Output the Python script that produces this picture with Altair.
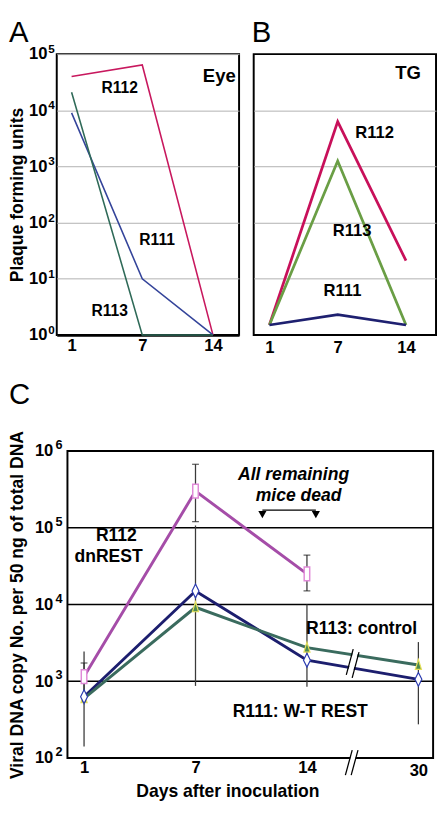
import altair as alt
import pandas as pd

FONT = "Liberation Sans"

# ---------------- Panel A : Eye (plaque forming units) ----------------
ab_days = ["1", "7", "14"]
eye_series = ["R112", "R111", "R113"]
eye_colors = ["#C8185E", "#34449A", "#2F6A58"]
eye_r112 = [4.0e4, 6.4e4, 1.0]
eye_r111 = [9.0e3, 10.0, 1.0]
eye_r113 = [2.1e4, 1.0, 1.0]
eye_lbl_text = ["R112", "R111", "R113", "Eye"]
eye_lbl_pos = [0.68, 1.21, 0.54, 2.09]
eye_lbl_val = [2.5e4, 48, 2.7, 4.0e4]
eye_lbl_size = [16, 16, 16, 19]

# ---------------- Panel B : TG ----------------
tg_series = ["R112", "R113", "R111"]
tg_colors = ["#C8105A", "#6A9E45", "#1E2070"]
tg_r112 = [1.5, 6.3e3, 21.0]
tg_r113 = [1.5, 1.25e3, 1.5]
tg_r111 = [1.5, 2.3, 1.5]
tg_lbl_text = ["TG", "R112", "R113", "R111"]
tg_lbl_pos = [2.03, 1.54, 1.21, 1.07]
tg_lbl_val = [4.5e4, 3.9e3, 71, 5.9]
tg_lbl_size = [19, 17, 17, 17]

# ---------------- Panel C : viral DNA copies ----------------
c_days = ["1", "7", "14", "30"]
c_series = ["R112", "R111", "R113"]
c_colors = ["#A54DA8", "#1C1E6E", "#3A6B5E"]
c_r112 = [1150, 3.0e5, 2.5e4]
c_r112_hi = [2450, 6.7e5, 4.4e4]
c_r112_lo = [600, 1.2e5, 1.5e4]
c_r111 = [630, 1.5e4, 1880, 1060]
c_r111_hi = [1730, 1.07e5, 1.0e4, 3240]
c_r111_lo = [141, 870, 850, 275]
c_r113 = [600, 9200, 2740, 1630]

c_lbl_text = ["R112", "dnREST", "R113: control", "R111: W-T REST"]
c_lbl_pos = [0.29, 0.22, 2.49, 1.94]
c_lbl_val = [7.7e4, 4.1e4, 4.8e3, 400]
c_note_text = ["All remaining", "mice dead"]
c_note_pos = [1.88, 1.925]
c_note_val = [4.8e5, 2.6e5]
arrow_pos = [1.60, 2.08]
arrow_line_val = 1.7e5
arrow_head_val = 1.48e5

# frame of panel C (x from, x to, y from, y to) and its inner grid decades
c_frame = [-0.149, 3.132, 100, 1e6]
c_grid = [1000, 1e4, 1e5]

# break marks ("//") : x1, x2, y1, y2 in data units
brk_white = [[2.38, 2.44, 1160, 2510], [2.37, 2.43, 64, 120]]
brk_black = [[2.353, 2.415, 1213, 2625], [2.406, 2.467, 1110, 2400],
             [2.345, 2.406, 60, 127], [2.397, 2.458, 60, 127]]

# y tick decades (mantissa "10" on the axis, exponent drawn as superscript)
a_ticks = [1, 10, 100, 1000, 1e4, 1e5]
a_exps = ["0", "1", "2", "3", "4", "5"]
c_ticks = [100, 1000, 1e4, 1e5, 1e6]
c_exps = ["2", "3", "4", "5", "6"]

panel_letters = ["A", "B", "C"]


def long_df(names, arrays):
    rows = []
    for n, arr in zip(names, arrays):
        for i, v in enumerate(arr):
            rows.append({"pos": i, "val": v, "series": n})
    return pd.DataFrame(rows)


def lbl_df(text, pos, val, size=None):
    d = pd.DataFrame({"text": text, "pos": pos, "val": val})
    if size is not None:
        d["fs"] = size
    return d


def letter(t, dx, dy):
    # panel letter, placed just outside the top-left corner of the panel
    return alt.Chart(pd.DataFrame({"t": [t]})).mark_text(
        font=FONT, fontSize=30, fontWeight="normal", color="black",
        align="left", baseline="alphabetic").encode(
        x=alt.value(dx), y=alt.value(dy), text="t:N")


H_AB = 288
H_C = 315

# ---------- Panel A ----------
xA = alt.X("pos:Q", scale=alt.Scale(domain=[-0.21, 2.37], nice=False, zero=False),
           axis=alt.Axis(values=[0, 1, 2], labelExpr="['1','7','14'][datum.value]",
                         title=None, grid=False, ticks=False, domain=True,
                         domainColor="black", domainWidth=3, labelFontSize=17,
                         labelPadding=3))
yA = alt.Y("val:Q", scale=alt.Scale(type="log", domain=[1, 1e5], nice=False),
           axis=alt.Axis(values=a_ticks, labelExpr="'10'",
                         grid=True, gridColor="#B0B0B0", gridWidth=1, ticks=False,
                         domain=False, title="Plaque forming units", titleFontSize=18,
                         labelFontSize=17, minExtent=29, maxExtent=29, titlePadding=2,
                         labelPadding=10))

dfA = long_df(eye_series, [eye_r112, eye_r111, eye_r113])
linesA = alt.Chart(dfA).mark_line(strokeWidth=1.6).encode(
    x=xA, y=yA,
    color=alt.Color("series:N", scale=alt.Scale(domain=eye_series, range=eye_colors), legend=None))
textA = alt.Chart(lbl_df(eye_lbl_text, eye_lbl_pos, eye_lbl_val, eye_lbl_size)).mark_text(
    font=FONT, fontWeight="bold", color="black").encode(
    x=xA, y=yA, text="text:N", size=alt.Size("fs:Q", scale=None))
expA = alt.Chart(pd.DataFrame({"val": a_ticks, "e": a_exps})).mark_text(
    font=FONT, fontWeight="bold", fontSize=12, color="black", align="right",
    baseline="middle", dx=-2, dy=-5).encode(x=alt.value(0), y=yA, text="e:N")
panelA = alt.layer(linesA, textA, expA, letter(panel_letters[0], -49, -12)).properties(
    width=187, height=H_AB)

# ---------- Panel B ----------
xB = alt.X("pos:Q", scale=alt.Scale(domain=[-0.23, 2.44], nice=False, zero=False),
           axis=alt.Axis(values=[0, 1, 2], labelExpr="['1','7','14'][datum.value]",
                         title=None, grid=False, ticks=False, domain=False,
                         labelFontSize=17, labelPadding=5))
yB = alt.Y("val:Q", scale=alt.Scale(type="log", domain=[1, 1e5], nice=False),
           axis=alt.Axis(values=[10, 100, 1000, 1e4], labels=False, grid=True,
                         gridColor="#B0B0B0", gridWidth=1, ticks=False, domain=False,
                         title=None))
dfB = long_df(tg_series, [tg_r112, tg_r113, tg_r111])
linesB = alt.Chart(dfB).mark_line(strokeWidth=2.8).encode(
    x=xB, y=yB,
    color=alt.Color("series:N", scale=alt.Scale(domain=tg_series, range=tg_colors), legend=None))
textB = alt.Chart(lbl_df(tg_lbl_text, tg_lbl_pos, tg_lbl_val, tg_lbl_size)).mark_text(
    font=FONT, fontWeight="bold", color="black").encode(
    x=xB, y=yB, text="text:N", size=alt.Size("fs:Q", scale=None))
panelB = alt.layer(linesB, textB, letter(panel_letters[1], -2, -12)).properties(
    width=187, height=H_AB)

# ---------- Panel C ----------
xC = alt.X("pos:Q", scale=alt.Scale(domain=[-0.245, 3.132], nice=False, zero=False),
           axis=alt.Axis(values=[0, 1, 2, 3], labelExpr="['1','7','14','30'][datum.value]",
                         title="Days after inoculation", titleFontSize=18, titleX=175,
                         titlePadding=4, grid=False, ticks=False, domain=False,
                         labelFontSize=17,
                         labelPadding={"condition": {"test": "datum.value == 3", "value": 5},
                                       "value": 2}))
yC = alt.Y("val:Q", scale=alt.Scale(type="log", domain=[100, 1e6], nice=False),
           axis=alt.Axis(values=c_ticks, labelExpr="'10'", grid=False,
                         ticks=False, domain=False,
                         title="Viral DNA copy No. per 50 ng of total DNA",
                         titleFontSize=18, labelFontSize=17, minExtent=23, maxExtent=23,
                         titlePadding=8, labelPadding=4))

frameC = alt.Chart(pd.DataFrame({"pos": [c_frame[0]], "pos2": [c_frame[1]],
                                 "val": [c_frame[2]], "val2": [c_frame[3]]})).mark_rect(
    fillOpacity=0, stroke="black", strokeWidth=2).encode(
    x=xC, x2="pos2:Q", y=yC, y2="val2:Q")
gridC = alt.Chart(pd.DataFrame({"pos": [c_frame[0]] * 3, "pos2": [c_frame[1]] * 3,
                                "val": c_grid})).mark_rule(
    color="black", strokeWidth=1.5).encode(x=xC, x2="pos2:Q", y=yC)

dfC = long_df(c_series, [c_r112, c_r111, c_r113])
err_rows = []
for arr_lo, arr_hi in [(c_r112_lo, c_r112_hi), (c_r111_lo, c_r111_hi)]:
    for i, (lo, hi) in enumerate(zip(arr_lo, arr_hi)):
        err_rows.append({"pos": i, "val": lo, "val2": hi})
dfErr = pd.DataFrame(err_rows)
cap_rows = [{"pos": i, "val": v} for i in (1, 2) for v in (c_r112_lo[i], c_r112_hi[i])]
cap_rows.append({"pos": 0, "val": c_r111_hi[0]})
dfCap = pd.DataFrame(cap_rows)

errC = alt.Chart(dfErr).mark_rule(color="#3A3A3A", strokeWidth=1.3).encode(
    x=xC, y=yC, y2="val2:Q")
capC = alt.Chart(dfCap).mark_tick(orient="horizontal", color="#222", thickness=1.3, size=7).encode(
    x=xC, y=yC)
linesC = alt.Chart(dfC).mark_line(strokeWidth=3).encode(
    x=xC, y=yC,
    color=alt.Color("series:N", scale=alt.Scale(domain=c_series, range=c_colors), legend=None))

sq_path = "M-0.4,-1L0.4,-1L0.4,1L-0.4,1Z"
dia_path = "M0,-1L0.5,0L0,1L-0.5,0Z"
tri_path = "M0,-1L0.55,0.8L-0.55,0.8Z"
mk112 = alt.Chart(long_df(["R112"], [c_r112])).mark_point(
    shape=sq_path, size=200, filled=True, fill="white", stroke="#E08AD8", strokeWidth=1.5,
    opacity=1).encode(x=xC, y=yC)
mk111 = alt.Chart(long_df(["R111"], [c_r111])).mark_point(
    shape=dia_path, size=200, filled=True, fill="white", stroke="#2B3BB0", strokeWidth=1.2,
    opacity=1).encode(x=xC, y=yC)
mk113 = alt.Chart(long_df(["R113"], [c_r113])).mark_point(
    shape=tri_path, size=130, filled=True, fill="#4E8A50", stroke="#E6E05A", strokeWidth=1.2,
    opacity=1).encode(x=xC, y=yC)

dfBw = pd.DataFrame(brk_white, columns=["pos", "pos2", "val", "val2"])
dfBb = pd.DataFrame(brk_black, columns=["pos", "pos2", "val", "val2"])
brkW = alt.Chart(dfBw).mark_rule(color="white", strokeWidth=5).encode(
    x=xC, x2="pos2:Q", y=yC, y2="val2:Q")
brkB = alt.Chart(dfBb).mark_rule(color="black", strokeWidth=1.3).encode(
    x=xC, x2="pos2:Q", y=yC, y2="val2:Q")

textC = alt.Chart(lbl_df(c_lbl_text, c_lbl_pos, c_lbl_val)).mark_text(
    font=FONT, fontWeight="bold", fontSize=18, color="black").encode(
    x=xC, y=yC, text="text:N")
noteC = alt.Chart(lbl_df(c_note_text, c_note_pos, c_note_val)).mark_text(
    font=FONT, fontWeight="bold", fontStyle="italic", fontSize=18, color="black").encode(
    x=xC, y=yC, text="text:N")
arrowLine = alt.Chart(pd.DataFrame({"pos": [arrow_pos[0]], "pos2": [arrow_pos[1]],
                                    "val": [arrow_line_val]})).mark_rule(
    color="black", strokeWidth=1.3).encode(x=xC, x2="pos2:Q", y=yC)
arrowHeads = alt.Chart(pd.DataFrame({"pos": arrow_pos, "val": [arrow_head_val] * 2})).mark_point(
    shape="triangle-down", size=70, filled=True, color="black", opacity=1).encode(x=xC, y=yC)
expC = alt.Chart(pd.DataFrame({"val": c_ticks, "e": c_exps,
                               "pos": [c_frame[0]] * len(c_ticks)})).mark_text(
    font=FONT, fontWeight="bold", fontSize=13, color="black", align="right",
    baseline="middle", dx=-5, dy=-6).encode(x=xC, y=yC, text="e:N")

panelC = alt.layer(gridC, frameC, errC, capC, linesC, mk113, mk111, mk112, brkW, brkB,
                   textC, noteC, arrowLine, arrowHeads, expC,
                   letter(panel_letters[2], -49, -48)).properties(
    width=386, height=H_C, view=alt.ViewBackground(stroke="transparent"))

top = alt.hconcat(panelA, panelB, spacing=11).resolve_scale(
    color="independent", x="independent", y="independent")
chart = alt.concat(top, panelC, columns=1, align="none", spacing=24).resolve_scale(
    color="independent", x="independent", y="independent").properties(
    padding=0).configure_view(stroke="black", strokeWidth=2).configure_axis(
    labelFont=FONT, titleFont=FONT, labelColor="black", titleColor="black",
    labelFontWeight="bold", titleFontWeight="bold")

chart.save("out.html", embed_options={"renderer": "svg", "actions": False})
